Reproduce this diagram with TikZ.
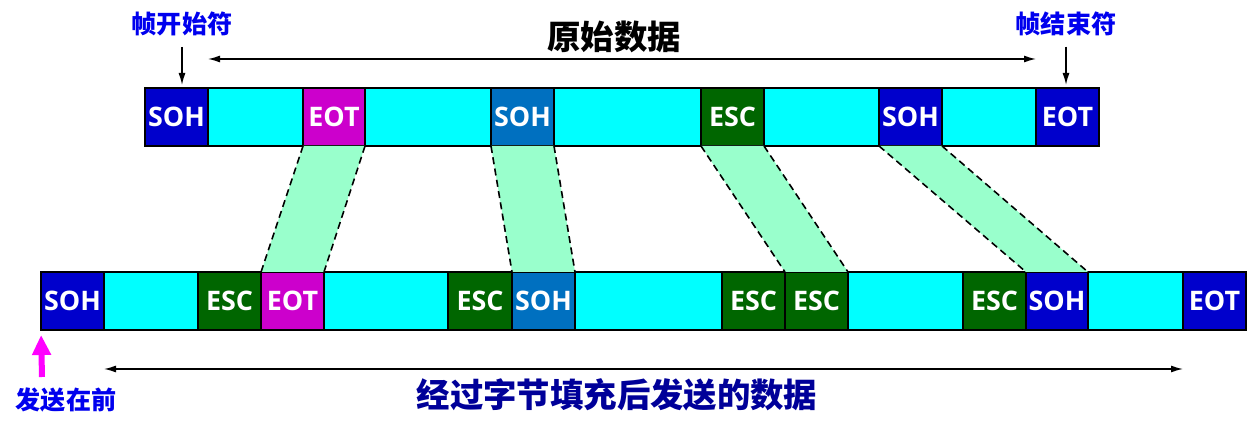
\documentclass[tikz,border=0pt]{standalone}
\usepackage{fontspec}
\usepackage{xcolor}
\usepackage{tikz}
\usetikzlibrary{arrows.meta}

\newfontfamily\cjk{Noto Sans CJK SC}
\newfontfamily\latinfont{Open Sans}

\definecolor{sohblue}{HTML}{0000CC}
\definecolor{midblue}{HTML}{0070C0}
\definecolor{eotpink}{HTML}{CC00CC}
\definecolor{escgreen}{HTML}{006600}
\definecolor{datacyan}{HTML}{00FFFF}
\definecolor{mintfill}{HTML}{99FFCC}
\definecolor{lblblue}{HTML}{0000EE}
\definecolor{titlenavy}{HTML}{000099}
\definecolor{sendpink}{HTML}{FF00FF}

\tikzset{
  cell/.style={draw=black, line width=1.1pt, anchor=north west, inner sep=0pt, outer sep=0pt,
    minimum height=58*0.2mm, text=white, font=\latinfont\bfseries\fontsize{15.3}{15}\selectfont},
  datacell/.style={cell, fill=datacyan},
  linkedge/.style={line width=0.9pt, dash pattern=on 4pt off 2.5pt},
  sidelabel/.style={text=lblblue, inner sep=0pt, font=\cjk\bfseries\fontsize{14.3}{14}\selectfont},
  sendarrow/.style={sendpink, line width=1.2mm, -{Triangle[length=4mm,width=3.6mm]}},
}

\begin{document}
\begin{tikzpicture}[x=0.2mm, y=-0.2mm, line width=0.8pt, >={Latex[length=2.4mm,width=1.4mm]}]
  \useasboundingbox (0,0) rectangle (1254,434);
  % original frame
  \node[cell, fill=sohblue, minimum width=63*0.2mm] (t1) at (145,88) {SOH};
  \node[datacell, minimum width=95*0.2mm] (t2) at (208,88) {};
  \node[cell, fill=eotpink, minimum width=62*0.2mm] (t3) at (303,88) {EOT};
  \node[datacell, minimum width=126*0.2mm] (t4) at (365,88) {};
  \node[cell, fill=midblue, minimum width=63*0.2mm] (t5) at (491,88) {SOH};
  \node[datacell, minimum width=147*0.2mm] (t6) at (554,88) {};
  \node[cell, fill=escgreen, minimum width=63*0.2mm] (t7) at (701,88) {ESC};
  \node[datacell, minimum width=115*0.2mm] (t8) at (764,88) {};
  \node[cell, fill=sohblue, minimum width=63*0.2mm] (t9) at (879,88) {SOH};
  \node[datacell, minimum width=94*0.2mm] (t10) at (942,88) {};
  \node[cell, fill=sohblue, minimum width=63*0.2mm] (t11) at (1036,88) {EOT};
  % stuffed frame
  \node[cell, fill=sohblue, minimum width=63*0.2mm] (b1) at (41,272) {SOH};
  \node[datacell, minimum width=94*0.2mm] (b2) at (104,272) {};
  \node[cell, fill=escgreen, minimum width=63*0.2mm] (b3) at (198,272) {ESC};
  \node[cell, fill=eotpink, minimum width=63*0.2mm] (b4) at (261,272) {EOT};
  \node[datacell, minimum width=124*0.2mm] (b5) at (324,272) {};
  \node[cell, fill=escgreen, minimum width=64*0.2mm] (b6) at (448,272) {ESC};
  \node[cell, fill=midblue, minimum width=63*0.2mm] (b7) at (512,272) {SOH};
  \node[datacell, minimum width=147*0.2mm] (b8) at (575,272) {};
  \node[cell, fill=escgreen, minimum width=63*0.2mm] (b9) at (722,272) {ESC};
  \node[cell, fill=escgreen, minimum width=63*0.2mm] (b10) at (785,272) {ESC};
  \node[datacell, minimum width=115*0.2mm] (b11) at (848,272) {};
  \node[cell, fill=escgreen, minimum width=63*0.2mm] (b12) at (963,272) {ESC};
  \node[cell, fill=sohblue, minimum width=62*0.2mm] (b13) at (1026,272) {SOH};
  \node[datacell, minimum width=95*0.2mm] (b14) at (1088,272) {};
  \node[cell, fill=sohblue, minimum width=63*0.2mm] (b15) at (1183,272) {EOT};
  % shifted control bytes
  \foreach \u/\l in {t3/b4, t5/b7, t7/b10, t9/b13} {
    \fill[mintfill] (\u.south west) -- (\u.south east) -- (\l.north east) -- (\l.north west) -- cycle;
    \draw[linkedge] (\u.south west) -- (\l.north west);
    \draw[linkedge] (\u.south east) -- (\l.north east);
  }
  % labels and arrows
  \node[sidelabel] (startlbl) at (182,24) {帧开始符};
  \node[sidelabel] (endlbl) at (1066,24) {帧结束符};
  \draw[->] ([yshift=-2mm]startlbl.south) -- (startlbl.south |- t1.north) [shorten >=0.6mm];
  \draw[->] ([yshift=-2mm]endlbl.south) -- (endlbl.south |- t11.north) [shorten >=0.6mm];
  \node[font=\cjk\bfseries\fontsize{19}{19}\selectfont] (rawlbl) at (614,37) {原始数据};
  \coordinate (rawL) at (208,59);
  \coordinate (rawR) at (1036,59);
  \draw[<->] (rawL) -- (rawR);
  \coordinate (sentL) at (104,369);
  \coordinate (sentR) at (1183,369);
  \draw[<->] (sentL) -- (sentR);
  \node[text=titlenavy, font=\cjk\bfseries\fontsize{19}{19}\selectfont] (sentlbl) at (617,395) {经过字节填充后发送的数据};
  \node[sidelabel] (sendlbl) at (66,400) {发送在前};
  \coordinate (sendtail) at (42,377);
  \draw[sendarrow] (sendtail) -- (b1.south west) [shorten >=1mm];
\end{tikzpicture}
\end{document}
